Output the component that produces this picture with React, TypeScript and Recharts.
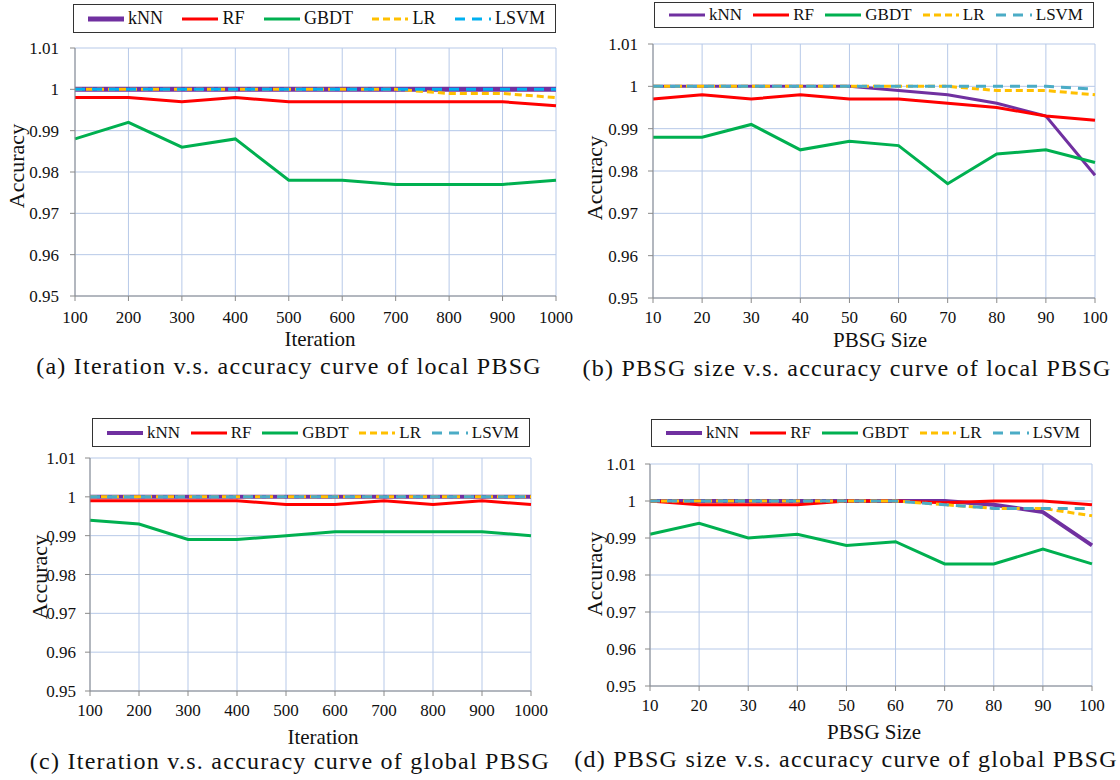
import React from 'react'
import { LineChart, Line, XAxis, YAxis, CartesianGrid, Label } from 'recharts'

const SERIF = "'Liberation Serif', 'Times New Roman', Times, 'Nimbus Roman', 'DejaVu Serif', serif"
const GRID = '#B7C9E8'
const AXIS = '#8A8A8A'

// x values
const iterations = [100, 200, 300, 400, 500, 600, 700, 800, 900, 1000]
const pbsgSizes = [10, 20, 30, 40, 50, 60, 70, 80, 90, 100]
const accuracyTicks = [0.95, 0.96, 0.97, 0.98, 0.99, 1, 1.01]

// (a) iteration, local PBSG
const localIterKnn = [1, 1, 1, 1, 1, 1, 1, 1, 1, 1]
const localIterRf = [0.998, 0.998, 0.997, 0.998, 0.997, 0.997, 0.997, 0.997, 0.997, 0.996]
const localIterGbdt = [0.988, 0.992, 0.986, 0.988, 0.978, 0.978, 0.977, 0.977, 0.977, 0.978]
const localIterLr = [1, 1, 1, 1, 1, 1, 1, 0.999, 0.999, 0.998]
const localIterLsvm = [1, 1, 1, 1, 1, 1, 1, 1, 1, 1]

// (b) size, local PBSG
const localSizeKnn = [1, 1, 1, 1, 1, 0.999, 0.998, 0.996, 0.993, 0.979]
const localSizeRf = [0.997, 0.998, 0.997, 0.998, 0.997, 0.997, 0.996, 0.995, 0.993, 0.992]
const localSizeGbdt = [0.988, 0.988, 0.991, 0.985, 0.987, 0.986, 0.977, 0.984, 0.985, 0.982]
const localSizeLr = [1, 1, 1, 1, 1, 1, 1, 0.999, 0.999, 0.998]
const localSizeLsvm = [1, 1, 1, 1, 1, 1, 1, 1, 1, 0.9993]

// (c) iteration, global PBSG
const globalIterKnn = [1, 1, 1, 1, 1, 1, 1, 1, 1, 1]
const globalIterRf = [0.999, 0.999, 0.999, 0.999, 0.998, 0.998, 0.999, 0.998, 0.999, 0.998]
const globalIterGbdt = [0.994, 0.993, 0.989, 0.989, 0.99, 0.991, 0.991, 0.991, 0.991, 0.99]
const globalIterLr = [1, 1, 1, 1, 1, 1, 1, 1, 1, 1]
const globalIterLsvm = [1, 1, 1, 1, 1, 1, 1, 1, 1, 1]

// (d) size, global PBSG
const globalSizeKnn = [1, 1, 1, 1, 1, 1, 1, 0.999, 0.997, 0.988]
const globalSizeRf = [1, 0.999, 0.999, 0.999, 1, 1, 0.9995, 1, 1, 0.999]
const globalSizeGbdt = [0.991, 0.994, 0.99, 0.991, 0.988, 0.989, 0.983, 0.983, 0.987, 0.983]
const globalSizeLr = [1, 1, 1, 1, 1, 1, 0.999, 0.998, 0.998, 0.996]
const globalSizeLsvm = [1, 1, 1, 1, 1, 1, 0.999, 0.998, 0.998, 0.998]

const seriesNames = ['kNN', 'RF', 'GBDT', 'LR', 'LSVM']

type Panel = {
  left: number
  top: number
  width: number
  xs: number[]
  values: number[][]
  xTitle: string
  caption: string
  lsvmColor: string
  knnWidth: number
  plotLeft: number
  plotTop: number
  plotBottom: number
  plotRight: number
  yTickMargin: number
  xTickMargin: number
  yTitle: [number, number]
  xTitlePos: [number, number]
  captionPos: [number, number]
  legendBox: [number, number, number, number]
  legendFont: number
}

const panels: Panel[] = [
  {
    left: 0, top: 0, width: 600, xs: iterations,
    values: [localIterKnn, localIterRf, localIterGbdt, localIterLr, localIterLsvm],
    xTitle: 'Iteration', caption: '(a) Iteration v.s. accuracy curve of local PBSG',
    lsvmColor: '#00B0F0', knnWidth: 5,
    plotLeft: 75, plotTop: 48, plotBottom: 296, plotRight: 556,
    yTickMargin: 11, xTickMargin: 10,
    yTitle: [16, 166], xTitlePos: [320, 339], captionPos: [289, 366],
    legendBox: [73, 4, 483, 29], legendFont: 18,
  },
  {
    left: 560, top: 0, width: 560, xs: pbsgSizes,
    values: [localSizeKnn, localSizeRf, localSizeGbdt, localSizeLr, localSizeLsvm],
    xTitle: 'PBSG Size', caption: '(b) PBSG size v.s. accuracy curve of local PBSG',
    lsvmColor: '#4BACC6', knnWidth: 3,
    plotLeft: 93, plotTop: 44, plotBottom: 298, plotRight: 535,
    yTickMargin: 10, xTickMargin: 8,
    yTitle: [34, 178], xTitlePos: [320, 340], captionPos: [287, 368],
    legendBox: [94, 2, 440, 26], legendFont: 17,
  },
  {
    left: 0, top: 390, width: 560, xs: iterations,
    values: [globalIterKnn, globalIterRf, globalIterGbdt, globalIterLr, globalIterLsvm],
    xTitle: 'Iteration', caption: '(c) Iteration v.s. accuracy curve of global PBSG',
    lsvmColor: '#4BACC6', knnWidth: 4,
    plotLeft: 90, plotTop: 68, plotBottom: 301, plotRight: 531,
    yTickMargin: 9, xTickMargin: 8,
    yTitle: [39, 187], xTitlePos: [323, 347], captionPos: [290, 371],
    legendBox: [92, 28, 438, 29], legendFont: 17,
  },
  {
    left: 560, top: 390, width: 560, xs: pbsgSizes,
    values: [globalSizeKnn, globalSizeRf, globalSizeGbdt, globalSizeLr, globalSizeLsvm],
    xTitle: 'PBSG Size', caption: '(d) PBSG size v.s. accuracy curve of global PBSG',
    lsvmColor: '#4BACC6', knnWidth: 4,
    plotLeft: 90, plotTop: 74, plotBottom: 296, plotRight: 532,
    yTickMargin: 9, xTickMargin: 8,
    yTitle: [34, 184], xTitlePos: [314, 342], captionPos: [286, 369],
    legendBox: [91, 29, 440, 28], legendFont: 17,
  },
]

function seriesStyle(p: Panel, i: number) {
  const colors = ['#7030A0', '#FF0000', '#00B050', '#FFC000', p.lsvmColor]
  const dashes = [undefined, undefined, undefined, '7 4', '10 7']
  return { color: colors[i], dash: dashes[i], width: i === 0 ? p.knnWidth : 3 }
}

function LegendBox({ p }: { p: Panel }) {
  const [x, y, w, h] = p.legendBox
  return (
    <div
      style={{
        position: 'absolute', left: x, top: y, width: w, height: h, boxSizing: 'border-box',
        border: '1.5px solid #333', display: 'flex', alignItems: 'center',
        justifyContent: 'space-between', padding: '0 10px 0 14px',
        fontFamily: SERIF, fontSize: p.legendFont, color: '#111', background: '#fff',
      }}
    >
      {seriesNames.map((name, i) => {
        const s = seriesStyle(p, i)
        return (
          <div key={name} style={{ display: 'flex', alignItems: 'center' }}>
            <svg width={36} height={8} style={{ marginRight: 4 }}>
              <line x1={0} y1={4} x2={36} y2={4} stroke={s.color} strokeWidth={s.width} strokeDasharray={s.dash} />
            </svg>
            <span>{name}</span>
          </div>
        )
      })}
    </div>
  )
}

function AccuracyPanel({ p }: { p: Panel }) {
  const H = 390
  const xAxisH = 60
  const rows = p.xs.map((x, i) => {
    const row: Record<string, number> = { x }
    seriesNames.forEach((n, k) => (row[n] = p.values[k][i]))
    return row
  })
  const tickStyle = { fill: '#111', fontSize: 17, fontFamily: SERIF }
  return (
    <div style={{ position: 'absolute', left: p.left, top: p.top, width: p.width, height: H }}>
      <LineChart
        width={p.width}
        height={H}
        data={rows}
        margin={{ top: p.plotTop, right: p.width - p.plotRight, bottom: H - p.plotBottom - xAxisH, left: 0 }}
      >
        <CartesianGrid stroke={GRID} strokeWidth={1} />
        <XAxis
          type="number"
          dataKey="x"
          domain={[p.xs[0], p.xs[p.xs.length - 1]]}
          ticks={p.xs}
          interval={0}
          height={xAxisH}
          stroke={AXIS}
          tickSize={5}
          tickMargin={p.xTickMargin}
          tick={tickStyle}
        >
          <Label
            content={() => (
              <text x={p.xTitlePos[0]} y={p.xTitlePos[1]} textAnchor="middle" dominantBaseline="central"
                style={{ fontFamily: SERIF }} fontSize={21} fill="#111">
                {p.xTitle}
              </text>
            )}
          />
        </XAxis>
        <YAxis
          type="number"
          domain={[0.95, 1.01]}
          ticks={accuracyTicks}
          interval={0}
          allowDataOverflow
          width={p.plotLeft}
          stroke={AXIS}
          tickSize={5}
          tickMargin={p.yTickMargin}
          tick={tickStyle}
          tickFormatter={(v: number) => String(v)}
        >
          <Label
            content={() => (
              <text x={p.yTitle[0]} y={p.yTitle[1]} textAnchor="middle" dominantBaseline="central"
                transform={`rotate(-90 ${p.yTitle[0]} ${p.yTitle[1]})`}
                style={{ fontFamily: SERIF }} fontSize={22} fill="#111">
                Accuracy
              </text>
            )}
          />
        </YAxis>
        {seriesNames.map((name, i) => {
          const s = seriesStyle(p, i)
          return (
            <Line
              key={name}
              type="linear"
              dataKey={name}
              stroke={s.color}
              strokeWidth={s.width}
              strokeDasharray={s.dash}
              dot={false}
              activeDot={false}
              isAnimationActive={false}
            />
          )
        })}
      </LineChart>
      <LegendBox p={p} />
      <div
        style={{
          position: 'absolute', left: p.captionPos[0] - 300, top: p.captionPos[1] - 12, width: 600,
          textAlign: 'center', lineHeight: '24px', fontFamily: SERIF, fontSize: 24,
          letterSpacing: '1.25px', color: '#111', whiteSpace: 'nowrap',
        }}
      >
        {p.caption}
      </div>
    </div>
  )
}

export default function App() {
  return (
    <div style={{ position: 'absolute', left: 0, top: 0, width: 1120, height: 780, background: '#fff', overflow: 'hidden' }}>
      {panels.map((p, i) => (
        <AccuracyPanel key={i} p={p} />
      ))}
    </div>
  )
}
